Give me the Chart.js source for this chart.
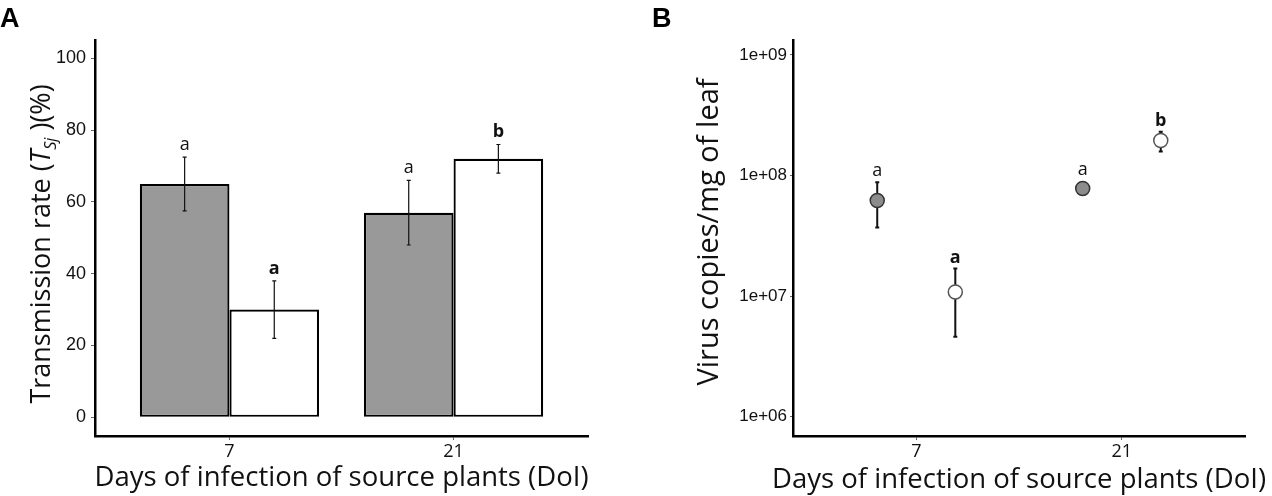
<!DOCTYPE html>
<html>
<head>
<meta charset="utf-8">
<script src="https://cdn.jsdelivr.net/npm/chart.js@4.4.1/dist/chart.umd.min.js"></script>
<style>
  html, body { margin: 0; padding: 0; background: #fff; }
  #wrap { position: relative; width: 1272px; height: 496px; overflow: hidden; }
  .panel { position: absolute; top: 0; width: 636px; height: 496px; }
  .tag { position: absolute; top: 3px; line-height: 1; font: bold 27px "Liberation Sans", Arial, sans-serif; color: #000; }
</style>
</head>
<body>
<div id="wrap">
  <div class="panel" style="left:0"><canvas id="rateChart" width="636" height="496"></canvas></div>
  <div class="panel" style="left:636px"><canvas id="virusChart" width="636" height="496"></canvas></div>
  <div class="tag" style="left:0">A</div>
  <div class="tag" style="left:652px">B</div>
</div>
<script>
// days of infection (categories)
var doi = ["7", "21"];

// panel A - transmission rate (%)
var rateGray = [65, 57];
var rateGrayLow = [57.5, 48];
var rateGrayHigh = [72.5, 66];
var rateWhite = [30, 72];
var rateWhiteLow = [22, 68];
var rateWhiteHigh = [38, 76];
var rateGrayLetters = ["a", "a"];
var rateWhiteLetters = ["a", "b"];
var rateTicks = [0, 20, 40, 60, 80, 100];

// panel B - virus copies / mg of leaf
var virusGray = [6.2e7, 7.8e7];
var virusGrayLow = [3.7e7, 7.1e7];
var virusGrayHigh = [8.8e7, 8.4e7];
var virusWhite = [1.08e7, 1.95e8];
var virusWhiteLow = [4.6e6, 1.58e8];
var virusWhiteHigh = [1.69e7, 2.3e8];
var virusGrayLetters = ["a", "a"];
var virusWhiteLetters = ["a", "b"];
var virusTicks = [1e6, 1e7, 1e8, 1e9];
var virusTickLabels = ["1e+06", "1e+07", "1e+08", "1e+09"];

var dodge = 0.19;
var titleFont = '"Open Sans", "Noto Sans", sans-serif';

// error bars + significance letters
var errorBars = {
  id: 'errorBars',
  beforeDatasetsDraw: function(chart, args, opts) {
    if (opts.behind) drawBars(chart, opts, true, false);
  },
  afterDatasetsDraw: function(chart, args, opts) {
    drawBars(chart, opts, !opts.behind, true);
  }
};

function drawBars(chart, opts, lines, letters) {
  var ctx = chart.ctx;
  var y = chart.scales.y;
  chart.data.datasets.forEach(function(ds, i) {
    var meta = chart.getDatasetMeta(i);
    meta.data.forEach(function(el, j) {
      var top = y.getPixelForValue(ds.errHigh[j]);
      var bot = y.getPixelForValue(ds.errLow[j]);
      ctx.save();
      if (lines) {
        ctx.strokeStyle = '#111';
        ctx.lineWidth = opts.width;
        ctx.beginPath();
        ctx.moveTo(el.x, top); ctx.lineTo(el.x, bot);
        ctx.moveTo(el.x - opts.cap, top); ctx.lineTo(el.x + opts.cap, top);
        ctx.moveTo(el.x - opts.cap, bot); ctx.lineTo(el.x + opts.cap, bot);
        ctx.stroke();
      }
      if (letters) {
        var r = el.options.radius || 0;
        var t = Math.min(top, el.y - r);
        ctx.fillStyle = '#111';
        ctx.font = (ds.boldLetters ? 'bold ' : '') + opts.fontSize + 'px ' + titleFont;
        ctx.textAlign = 'center';
        ctx.textBaseline = 'alphabetic';
        ctx.fillText(ds.letters[j], el.x, t - opts.gap);
      }
      ctx.restore();
    });
  });
}

// axis titles (y title may hold italic / subscript parts)
var axisTitles = {
  id: 'axisTitles',
  afterDraw: function(chart, args, opts) {
    var ctx = chart.ctx, a = chart.chartArea;
    var size = opts.size;
    ctx.save();
    ctx.fillStyle = '#111';
    ctx.textBaseline = 'middle';
    ctx.textAlign = 'center';
    ctx.font = opts.xSize + 'px ' + titleFont;
    ctx.fillText(opts.x, (a.left + a.right) / 2, opts.xPos);

    ctx.translate(opts.yPos, opts.yCenter);
    ctx.rotate(-Math.PI / 2);
    ctx.textAlign = 'left';
    ctx.textBaseline = 'alphabetic';
    var fontFor = function(p) {
      var s = p.sub ? size * 0.6 : size;
      return (p.italic ? 'italic ' : '') + s + 'px ' + titleFont;
    };
    var total = 0;
    opts.y.forEach(function(p) { ctx.font = fontFor(p); total += ctx.measureText(p.text).width; });
    var cx = -total / 2;
    var base = size * 0.36;
    opts.y.forEach(function(p) {
      ctx.font = fontFor(p);
      ctx.fillText(p.text, cx, base + (p.sub ? size * 0.22 : 0));
      cx += ctx.measureText(p.text).width;
    });
    ctx.restore();
  }
};

new Chart(document.getElementById('rateChart'), {
  type: 'bar',
  data: {
    datasets: [{
      data: doi.map(function(d, i) { return { x: i + 1, y: rateGray[i] }; }),
      backgroundColor: '#999999',
      borderColor: '#000',
      borderWidth: 2.2,
      borderSkipped: false,
      categoryPercentage: 0.8,
      barPercentage: 1,
      errLow: rateGrayLow, errHigh: rateGrayHigh,
      letters: rateGrayLetters, boldLetters: false
    }, {
      data: doi.map(function(d, i) { return { x: i + 1, y: rateWhite[i] }; }),
      backgroundColor: '#ffffff',
      borderColor: '#000',
      borderWidth: 2.2,
      borderSkipped: false,
      categoryPercentage: 0.8,
      barPercentage: 1,
      errLow: rateWhiteLow, errHigh: rateWhiteHigh,
      letters: rateWhiteLetters, boldLetters: true
    }]
  },
  options: {
    responsive: false,
    animation: false,
    layout: { padding: { left: 0, top: 40, right: 48, bottom: 0 } },
    plugins: {
      legend: { display: false },
      tooltip: { enabled: false },
      errorBars: { behind: false, width: 1.2, cap: 2, gap: 7, fontSize: 18 },
      axisTitles: {
        x: 'Days of infection of source plants (DoI)', xSize: 27.5, xPos: 478,
        y: [{ text: 'Transmission rate (' }, { text: 'T', italic: true }, { text: 'Sj', italic: true, sub: true }, { text: ' )(%)' }],
        size: 27, yPos: 40, yCenter: 244
      }
    },
    scales: {
      x: {
        type: 'linear', min: 0.4, max: 2.6, offset: false,
        afterFit: function(s) { s.height = 60; },
        afterBuildTicks: function(s) { s.ticks = doi.map(function(d, i) { return { value: i + 1 }; }); },
        ticks: { callback: function(v) { return doi[v - 1]; }, color: '#111', padding: 1, maxRotation: 0,
                 font: { family: titleFont, size: 18 } },
        grid: { drawOnChartArea: false, offset: false, tickLength: 4, color: '#666' },
        border: { color: '#000', width: 2.5 }
      },
      y: {
        min: -5.2, max: 105.1,
        afterFit: function(s) { s.width = 95; },
        afterBuildTicks: function(s) { s.ticks = rateTicks.map(function(v) { return { value: v }; }); },
        ticks: { color: '#111', padding: 5, font: { family: '"Liberation Sans", Arial, sans-serif', size: 18 } },
        grid: { drawOnChartArea: false, tickLength: 4, color: '#666' },
        border: { color: '#000', width: 2.5 }
      }
    }
  },
  plugins: [errorBars, axisTitles]
});

new Chart(document.getElementById('virusChart'), {
  type: 'scatter',
  data: {
    datasets: [{
      data: doi.map(function(d, i) { return { x: i + 1 - dodge, y: virusGray[i] }; }),
      pointRadius: 7,
      pointBackgroundColor: '#8c8c8c',
      pointBorderColor: '#333',
      pointBorderWidth: 1.5,
      errLow: virusGrayLow, errHigh: virusGrayHigh,
      letters: virusGrayLetters, boldLetters: false
    }, {
      data: doi.map(function(d, i) { return { x: i + 1 + dodge, y: virusWhite[i] }; }),
      pointRadius: 7,
      pointBackgroundColor: '#ffffff',
      pointBorderColor: '#555',
      pointBorderWidth: 1.5,
      errLow: virusWhiteLow, errHigh: virusWhiteHigh,
      letters: virusWhiteLetters, boldLetters: true
    }]
  },
  options: {
    responsive: false,
    animation: false,
    layout: { padding: { left: 0, top: 40, right: 27, bottom: 0 } },
    plugins: {
      legend: { display: false },
      tooltip: { enabled: false },
      errorBars: { behind: true, width: 2, cap: 2, gap: 6, fontSize: 18 },
      axisTitles: {
        x: 'Days of infection of source plants (DoI)', xSize: 27.5, xPos: 480,
        y: [{ text: 'Virus copies/mg of leaf' }],
        size: 29, yPos: 72, yCenter: 232
      }
    },
    scales: {
      x: {
        type: 'linear', min: 0.4, max: 2.6,
        afterFit: function(s) { s.height = 60; },
        afterBuildTicks: function(s) { s.ticks = doi.map(function(d, i) { return { value: i + 1 }; }); },
        ticks: { callback: function(v) { return doi[v - 1]; }, color: '#111', padding: 1, maxRotation: 0,
                 font: { family: titleFont, size: 18 } },
        grid: { drawOnChartArea: false, tickLength: 4, color: '#666' },
        border: { color: '#000', width: 2.5 }
      },
      y: {
        type: 'logarithmic', min: 6.9e5, max: 1.33e9,
        afterFit: function(s) { s.width = 157; },
        afterBuildTicks: function(s) { s.ticks = virusTicks.map(function(v) { return { value: v }; }); },
        ticks: { callback: function(v) { return virusTickLabels[virusTicks.indexOf(v)]; },
                 color: '#111', padding: 3,
                 font: { family: '"Liberation Sans", Arial, sans-serif', size: 17 } },
        grid: { drawOnChartArea: false, tickLength: 3, color: '#666' },
        border: { color: '#000', width: 2.5 }
      }
    }
  },
  plugins: [errorBars, axisTitles]
});
</script>
</body>
</html>
